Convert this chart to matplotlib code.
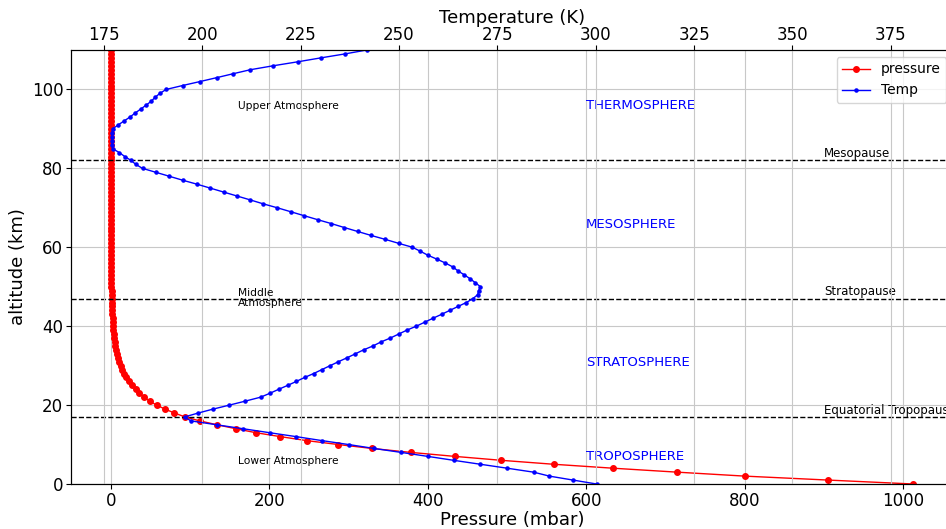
"""Atmosphere profile: pressure and temperature against altitude"""

import matplotlib
matplotlib.use('Agg')
import matplotlib.pyplot as plt

# altitude grid (km), one value per km
altitude = list(range(0, 111))

# pressure (mbar)
pressure = [1013, 905, 800, 715, 634, 559, 493, 434, 379, 330,
            287, 247, 214, 183, 158, 134, 112, 93.5, 80, 68,
            57.5, 49, 42, 35.8, 31.5, 27, 23, 19.5, 16.5, 14,
            12, 10.3, 8.8, 7.6, 6.5, 5.6, 4.8, 4.1, 3.5, 3.0,
            2.6, 2.2, 1.9, 1.65, 1.4, 1.2, 1.05, 0.9, 0.78, 0.67,
            0.58, 0.5, 0.43, 0.37, 0.32, 0.28, 0.24, 0.21, 0.18, 0.155,
            0.135, 0.115, 0.1, 0.085, 0.073, 0.062, 0.053, 0.045, 0.038, 0.032,
            0.027, 0.023, 0.019, 0.016, 0.014, 0.012, 0.01, 0.0085, 0.0072, 0.006,
            0.005, 0.0042, 0.0035, 0.003, 0.0025, 0.0021, 0.0018, 0.0015, 0.0013, 0.0011,
            0.0009, 0.00076, 0.00064, 0.00054, 0.00046, 0.00039, 0.00033, 0.00028, 0.00024, 0.0002,
            0.00017, 0.00014, 0.00012, 0.0001, 0.00009, 0.00008, 0.00007, 0.00006, 0.00005, 0.00004,
            0.00003]

# temperature (K)
temperature = [300.2, 294.2, 288.2, 284.2, 277.5, 270.7, 263.9, 257.3, 250.6, 243.7,
               237.2, 230.4, 223.9, 217.1, 210.4, 203.7, 197.1, 195.5, 199.0, 202.8,
               206.9, 210.9, 214.8, 217.2, 219.4, 221.7, 223.9, 226.0, 228.3, 230.4,
               232.5, 234.6, 236.8, 238.9, 241.0, 243.4, 245.4, 247.8, 249.9, 252.0,
               254.4, 256.5, 258.6, 260.8, 262.9, 265.0, 267.1, 268.8, 270.0, 270.2,
               270.7, 269.4, 268.1, 266.6, 265.0, 263.7, 261.8, 259.6, 257.3, 255.4,
               253.4, 249.9, 246.5, 242.9, 239.5, 236.1, 232.8, 229.3, 225.9, 222.5,
               219.1, 215.5, 212.2, 208.8, 205.4, 202.0, 198.6, 195.0, 191.6, 188.2,
               184.8, 183.1, 181.9, 180.3, 178.9, 177.2, 177.0, 177.0, 177.0, 177.0,
               177.2, 178.6, 180.1, 181.6, 182.9, 184.3, 185.7, 187.0, 188.0, 189.2,
               190.8, 195.0, 199.4, 203.7, 207.9, 212.2, 218.0, 224.2, 230.1, 236.2,
               241.8]

# boundaries (km) and their names
boundaries = [82, 47, 17]
boundary_names = ['Mesopause', 'Stratopause', 'Equatorial Tropopause']

# layers: name, altitude of label
layers = ['THERMOSPHERE', 'MESOSPHERE', 'STRATOSPHERE', 'TROPOSPHERE']
layer_alt = [95, 65, 30, 6]

regions = ['Upper Atmosphere', 'Middle\nAtmosphere', 'Lower Atmosphere']
region_alt = [95, 45, 5]

fig = plt.figure(figsize=(9.46, 5.29), dpi=100)
ax = fig.add_axes([70.9 / 946, 45 / 529, (953.4 - 70.9) / 946, 434 / 529])

ax.plot(pressure, altitude, 'ro-', markersize=4, linewidth=1, label='pressure')
ax.set_xlim(-50.65, 1063.65)
ax.set_ylim(0, 110)
ax.set_xlabel('Pressure (mbar)', fontsize=13, labelpad=1)
ax.set_ylabel('altitude (km)', fontsize=13, labelpad=3)
ax.tick_params(labelsize=12, pad=2)
ax.grid(True, color='#c8c8c8')

ax2 = ax.twiny()
ax2.plot(temperature, altitude, 'b.-', markersize=4.5, linewidth=1, label='Temp')
ax2.set_xlim(166.6, 390.9)
ax2.set_xlabel('Temperature (K)', fontsize=13, labelpad=2)
ax2.tick_params(labelsize=12, pad=1)
ax2.grid(True, color='#c8c8c8')

for b, name in zip(boundaries, boundary_names):
    ax.axhline(b, color='black', linestyle='--', linewidth=1)
    ax.text(900, b + 0.8, name, fontsize=8.5)

for name, a in zip(layers, layer_alt):
    ax.text(600, a, name, fontsize=9.5, color='blue')

for name, a in zip(regions, region_alt):
    ax.text(160, a, name, fontsize=7.7, linespacing=1.0)

lines = ax.get_lines()[:1] + ax2.get_lines()[:1]
ax2.legend(lines, [l.get_label() for l in lines], loc='upper right', fontsize=10)

fig.savefig('out.png', dpi=100)
